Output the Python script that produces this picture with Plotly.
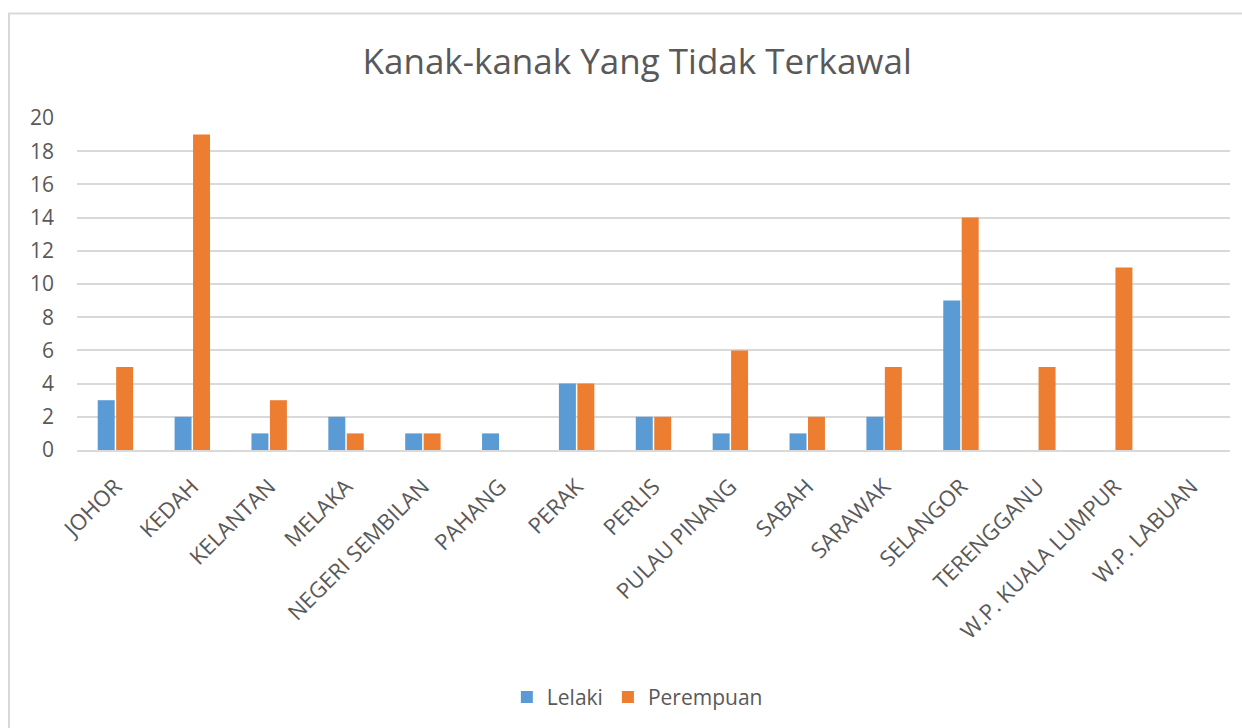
import plotly.graph_objects as go

# Negeri dan bilangan kanak-kanak mengikut jantina
negeri = ["JOHOR", "KEDAH", "KELANTAN", "MELAKA", "NEGERI SEMBILAN", "PAHANG",
          "PERAK", "PERLIS", "PULAU PINANG", "SABAH", "SARAWAK", "SELANGOR",
          "TERENGGANU", "W.P. KUALA LUMPUR", "W.P. LABUAN"]
lelaki = [3, 2, 1, 2, 1, 1, 4, 2, 1, 1, 2, 9, 0, 0, 0]
perempuan = [5, 19, 3, 1, 1, 0, 4, 2, 6, 2, 5, 14, 5, 11, 0]
y_ticks = [0, 2, 4, 6, 8, 10, 12, 14, 16, 18, 20]

BLUE = "#5b9bd5"
ORANGE = "#ed7d31"
TEXT = "#595959"
GRID = "#d9d9d9"
FONT = "Open Sans, Noto Sans, sans-serif"

fig = go.Figure()
fig.add_trace(go.Bar(name="Lelaki", x=negeri, y=lelaki, marker_color=BLUE,
                     marker_line_width=0))
fig.add_trace(go.Bar(name="Perempuan", x=negeri, y=perempuan, marker_color=ORANGE,
                     marker_line_width=0))

fig.update_layout(
    width=1242, height=728,
    margin=dict(l=77, r=12, t=118, b=277),
    paper_bgcolor="white", plot_bgcolor="white",
    barmode="group", bargap=0.52, bargroupgap=0.08,
    font=dict(family=FONT, color=TEXT),
    title=dict(text="Kanak-kanak Yang Tidak Terkawal", x=0.513, xanchor="center",
               y=0.915, yanchor="middle",
               font=dict(size=35, color=TEXT, family=FONT)),
    legend=dict(orientation="h", x=0.486, xanchor="center", y=-0.74, yanchor="middle",
                font=dict(size=21, color=TEXT), traceorder="normal",
                itemwidth=30, itemsizing="constant"),
    showlegend=True,
)

fig.update_xaxes(tickangle=-45, tickfont=dict(size=22, color=TEXT),
                 showgrid=False, showline=True, linecolor=GRID, linewidth=2,
                 ticks="", ticklabelstandoff=13)
fig.update_yaxes(range=[0, 20], tickvals=y_ticks, tickfont=dict(size=21, color=TEXT),
                 showgrid=True, gridcolor=GRID, gridwidth=2,
                 zeroline=False, showline=False, ticks="", ticklabelstandoff=22)

# Bingkai carta
fig.add_shape(type="rect", xref="paper", yref="paper",
              x0=-0.059, x1=1.2, y0=-1.5, y1=1.315,
              line=dict(color=GRID, width=2), layer="below")

fig.write_html("out.html")
